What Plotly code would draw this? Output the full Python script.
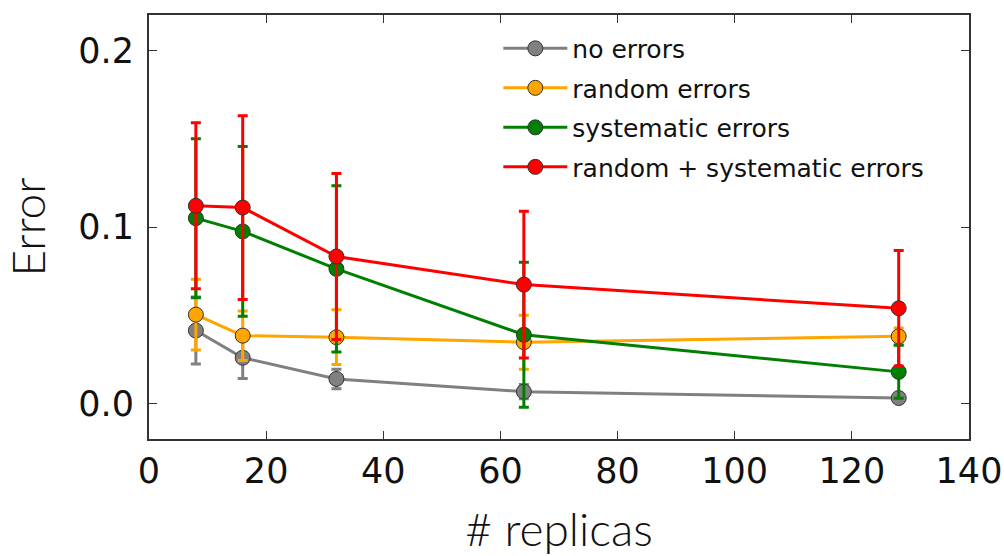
import plotly.graph_objects as go

replicas = [8, 16, 32, 64, 128]

no_err = [0.0414, 0.026, 0.014, 0.0068, 0.0032]
no_err_sd = [0.019, 0.0117, 0.0055, 0.004, 0.002]

rand_err = [0.0504, 0.0385, 0.0376, 0.0348, 0.0381]
rand_err_sd = [0.020, 0.014, 0.0155, 0.0153, 0.0047]

sys_err = [0.105, 0.0975, 0.0763, 0.039, 0.018]
sys_err_sd = [0.045, 0.048, 0.047, 0.041, 0.015]

both_err = [0.112, 0.111, 0.0833, 0.0674, 0.054]
both_err_sd = [0.047, 0.052, 0.047, 0.0415, 0.0327]

series = [
    ("no errors", no_err, no_err_sd, "#808080"),
    ("random errors", rand_err, rand_err_sd, "#FFA500"),
    ("systematic errors", sys_err, sys_err_sd, "#008000"),
    ("random + systematic errors", both_err, both_err_sd, "#FF0000"),
]

fig = go.Figure()
for i, (name, vals, sd, col) in enumerate(series):
    fig.add_trace(go.Scatter(
        x=replicas, y=vals, name=name, mode="lines+markers",
        legendgroup=f"g{i}",
        line=dict(color=col, width=3),
        marker=dict(color=col, size=15, line=dict(color="#333333", width=1)),
        error_y=dict(type="data", array=sd, visible=True, color=col,
                     thickness=3, width=5),
    ))

axis_common = dict(
    showline=True, linecolor="#333333", linewidth=2, mirror="ticks",
    ticks="inside", ticklen=8, tickcolor="#333333", tickwidth=1,
    showgrid=False, zeroline=False, automargin=False,
    tickfont=dict(family="DejaVu Sans", size=35, color="#111111"),
)

fig.update_layout(
    width=1004, height=556,
    margin=dict(l=149, r=35, t=15, b=117),
    paper_bgcolor="white", plot_bgcolor="white",
    showlegend=True,
    legend=dict(
        x=0.426, y=0.975, xanchor="left", yanchor="top",
        bgcolor="rgba(0,0,0,0)", borderwidth=0,
        font=dict(family="DejaVu Sans", size=25, color="#111111"),
        traceorder="grouped", tracegroupgap=4, itemwidth=64,
    ),
    xaxis=dict(
        range=[0, 140], tickvals=[0, 20, 40, 60, 80, 100, 120, 140],
        title=dict(text="# replicas", standoff=33,
                   font=dict(family="Lato", size=46, color="#111111", weight=300)),
        **axis_common,
    ),
    yaxis=dict(
        range=[-0.02, 0.22], tickvals=[0.0, 0.1, 0.2],
        ticktext=["0.0", "0.1", "0.2"],
        ticklabelstandoff=6,
        title=dict(text="Error", standoff=27,
                   font=dict(family="Lato", size=46, color="#111111", weight=300)),
        **axis_common,
    ),
)

fig.write_html("out.html")
